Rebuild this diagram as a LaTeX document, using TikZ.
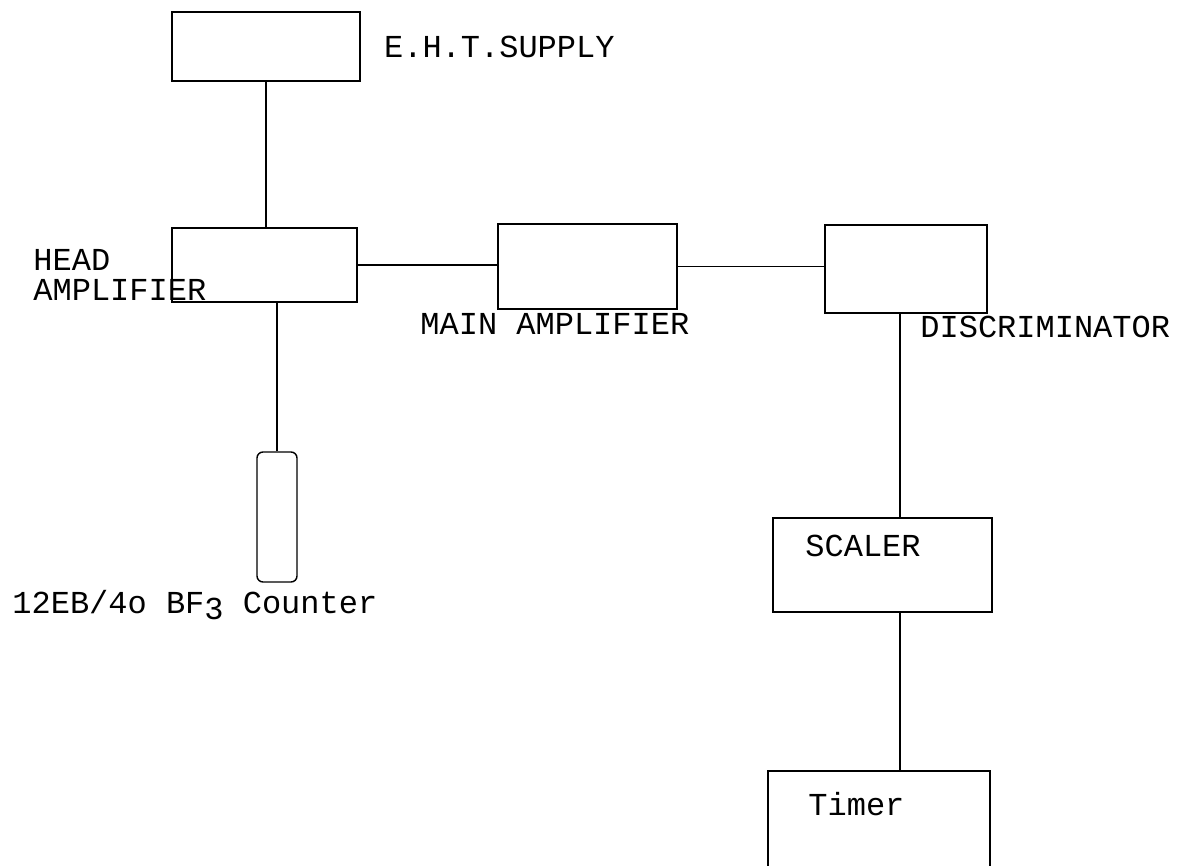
\documentclass[tikz,border=0pt]{standalone}
\usepackage{fontspec}
\setmonofont{Liberation Mono}
\usetikzlibrary{positioning}

\begin{document}
\begin{tikzpicture}[
      x=0.5pt, y=-0.5pt,
      node distance=4mm and 4mm,
      box/.style={draw, rectangle, inner sep=0pt, line width=0.7pt},
      tube/.style={box, rounded corners=3pt},
      lbl/.style={font=\ttfamily\fontsize{16}{15}\selectfont, inner sep=0pt, align=left},
      wire/.style={line width=0.7pt}
    ]
    \clip (0,0) rectangle (1177,866);
    \fill[white] (0,0) rectangle (1177,866);

    \node[box, minimum width=94pt, minimum height=34.5pt] (eht) at (266,46.5) {};
    \node[box, minimum width=92.5pt, minimum height=37pt] (head) at (264.5,265) {};
    \node[box, minimum width=89.5pt, minimum height=42.5pt] (main) at (587.5,266.5) {};
    \node[box, minimum width=81pt, minimum height=44pt] (disc) at (906,269) {};
    \node[box, minimum width=109.5pt, minimum height=47pt] (scaler) at (882.5,565) {};
    \node[box, minimum width=111pt, minimum height=54.5pt] (timer) at (879,825.5) {};
    \node[tube, minimum width=20pt, minimum height=65pt] (counter) at (277,517) {};

    \node[lbl, right=11.5pt of eht] (ehtlbl) {E.H.T.SUPPLY};
    \node[lbl, anchor=west] (headlbl) at (33,275) {HEAD\\AMPLIFIER};
    \node[lbl, anchor=west] (mainlbl) at (420,324) {MAIN AMPLIFIER};
    \node[lbl, anchor=west] (disclbl) at (920,327) {DISCRIMINATOR};
    \node[lbl, anchor=west] (scalerlbl) at (805,546) {SCALER};
    \node[lbl, anchor=west] (timerlbl) at (808,804) {Timer};
    \node[lbl, anchor=west] (counterlbl) at (12,605) {12EB/4o BF\raisebox{-0.4ex}{3} Counter};

    \draw[wire] (eht.south) -- (eht.south |- head.north);
    \draw[wire] (counter.north) -- (counter.north |- head.south);
    \draw[wire] (head.east) -- (head.east -| main.west);
    \draw[wire] (main.east) -- (main.east -| disc.west);
    \draw[wire] ([xshift=-3pt]disc.south) -- ([xshift=-3pt]disc.south |- scaler.north);
    \draw[wire] ([xshift=-3pt]disc.south |- scaler.south) -- ([xshift=-3pt]disc.south |- timer.north);
\end{tikzpicture}
\end{document}
